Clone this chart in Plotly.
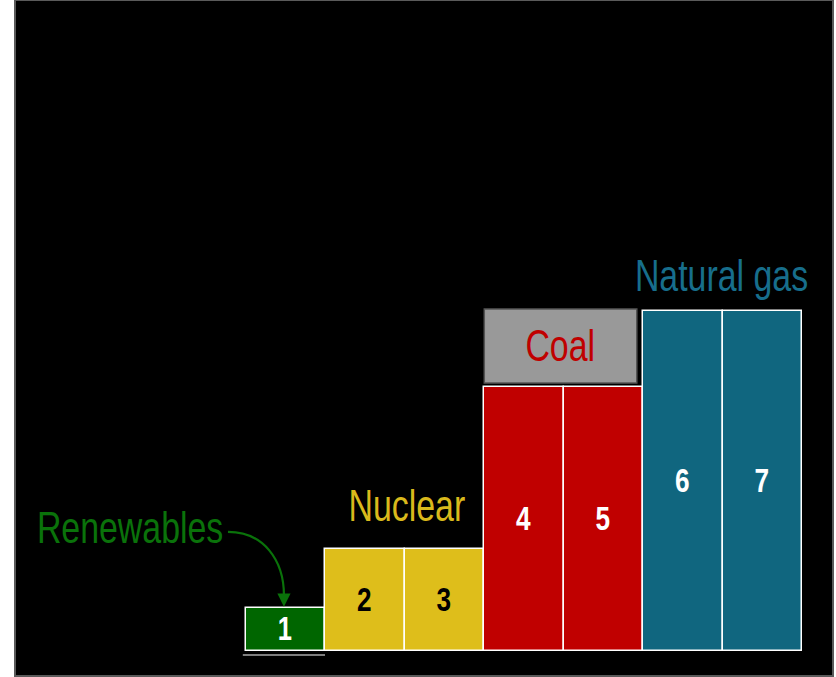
import plotly.graph_objects as go

# Merit-order stack: one block per plant, sorted by operating cost
plants = ["1", "2", "3", "4", "5", "6", "7"]
positions = [1, 2, 3, 4, 5, 6, 7]
costs = [10, 24, 24, 62, 62, 80, 80]
fuels = ["Renewables", "Nuclear", "Nuclear", "Coal", "Coal", "Natural gas", "Natural gas"]

fuel_colors = {
    "Renewables": "#006600",
    "Nuclear": "#DEBE1B",
    "Coal": "#C00000",
    "Natural gas": "#10667F",
}
label_colors = {
    "Renewables": "white",
    "Nuclear": "black",
    "Coal": "white",
    "Natural gas": "white",
}

FONT = "Liberation Sans Narrow, Arial Narrow, Liberation Sans, Arial, sans-serif"
CONDENSE = 0.77  # horizontal squeeze giving a narrow face

fig = go.Figure()
fig.add_trace(go.Bar(
    x=positions,
    y=costs,
    width=1,
    text=plants,
    textposition="inside",
    insidetextanchor="middle",
    textangle=0,
    textfont=dict(family=FONT, size=34, color=[label_colors[f] for f in fuels], weight="bold"),
    marker=dict(color=[fuel_colors[f] for f in fuels], line=dict(color="white", width=1.5)),
    hoverinfo="skip",
    showlegend=False,
))

shapes = [
    # thin baseline under the renewables block
    dict(type="line", xref="x", yref="y", x0=0.46, x1=1.495, y0=-0.95, y1=-0.95,
         line=dict(color="#A8A8A8", width=1.5)),
    # grey tag over the coal blocks
    dict(type="rect", xref="x", yref="y", x0=3.5, x1=5.42, y0=63.0, y1=80.4,
         fillcolor="#999999", line=dict(color="#555555", width=1.5), layer="above"),
    # curved pointer from the renewables label to its block
    dict(type="path", xref="x", yref="y",
         path="M 0.273,28.0 C 0.72,28.0 0.978,21.4 0.978,13.0",
         line=dict(color="#0A720A", width=2.2)),
    # frame
    dict(type="rect", xref="paper", yref="paper", x0=0, x1=1, y0=0, y1=1,
         line=dict(color="#5A5A5A", width=2)),
]

annotations = [
    dict(x=-0.96, y=29.0, text="Renewables", showarrow=False,
         font=dict(family=FONT, size=44, color="#0A720A")),
    dict(x=0.978, y=10.4, text="", showarrow=True, ax=0, ay=-14,
         arrowhead=2, arrowsize=1.2, arrowwidth=2.2, arrowcolor="#0A720A"),
    dict(x=2.53, y=34.3, text="Nuclear", showarrow=False,
         font=dict(family=FONT, size=44, color="#D9B91C")),
    dict(x=4.46, y=71.7, text="Coal", showarrow=False,
         font=dict(family=FONT, size=44, color="#C00000")),
    dict(x=6.48, y=88.2, text="Natural gas", showarrow=False,
         font=dict(family=FONT, size=44, color="#176E8C")),
]

fig.update_layout(
    width=836,
    height=677,
    margin=dict(l=15, r=3, t=0, b=1),
    paper_bgcolor="white",
    plot_bgcolor="black",
    bargap=0,
    shapes=shapes,
    annotations=annotations,
    xaxis=dict(range=[-2.408, 7.89], visible=False, fixedrange=True),
    yaxis=dict(range=[-5.88, 153.0], visible=False, fixedrange=True),
)

# Squeeze label text horizontally about its own centre (narrow type)
condense_js = """
var gd = document.getElementById('{plot_id}');
function condense(el, k) {
  var b = el.getBBox();
  var cx = b.x + b.width / 2;
  var t = el.getAttribute('transform') || '';
  el.setAttribute('transform', t + ' translate(' + cx + ',0) scale(' + k + ',1) translate(' + (-cx) + ',0)');
}
gd.querySelectorAll('.annotation-text').forEach(function (el) { condense(el, %s); });
gd.querySelectorAll('.bartext').forEach(function (el) { condense(el, %s); });
""" % (CONDENSE, CONDENSE)

fig.write_html("out.html", post_script=condense_js)
